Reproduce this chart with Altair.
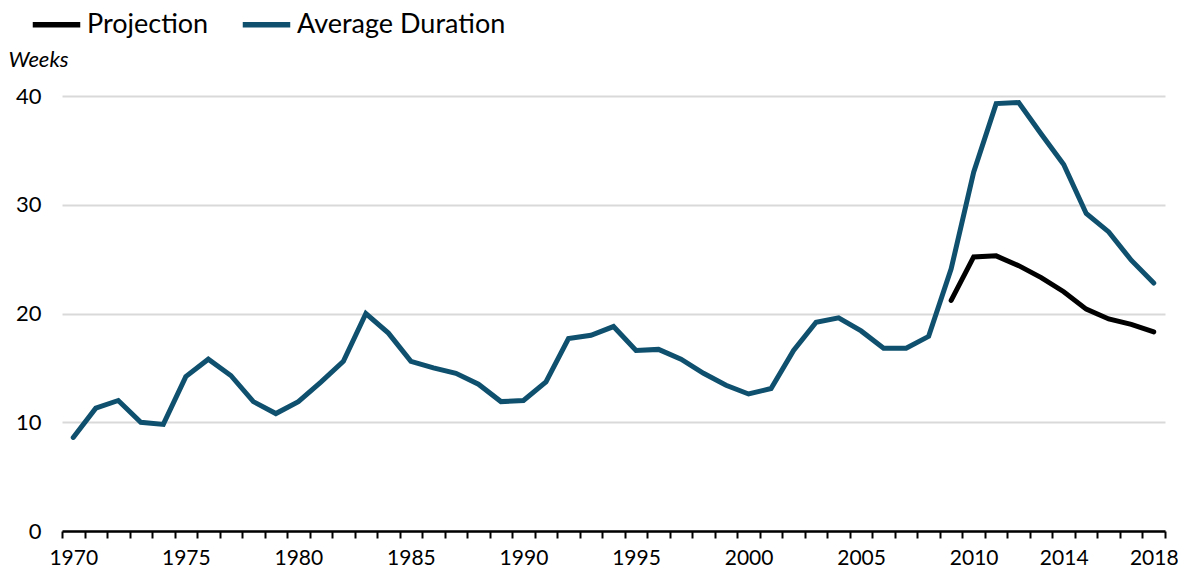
import altair as alt
import pandas as pd

years = list(range(1970, 2019))
avg_duration = [8.6, 11.3, 12.0, 10.0, 9.8, 14.2, 15.8, 14.3, 11.9, 10.8,
                11.9, 13.7, 15.6, 20.0, 18.2, 15.6, 15.0, 14.5, 13.5, 11.9,
                12.0, 13.7, 17.7, 18.0, 18.8, 16.6, 16.7, 15.8, 14.5, 13.4,
                12.6, 13.1, 16.6, 19.2, 19.6, 18.4, 16.8, 16.8, 17.9, 24.1,
                33.0, 39.3, 39.4, 36.5, 33.7, 29.2, 27.5, 24.9, 22.8]
proj_years = list(range(2009, 2019))
projection = [21.2, 25.2, 25.3, 24.4, 23.3, 22.0, 20.4, 19.5, 19.0, 18.3]
series_names = ["Projection", "Average Duration"]
series_colors = ["#000000", "#0e506e"]
x_labels = ["1970", "1975", "1980", "1985", "1990", "1995", "2000", "2005", "2010", "2014", "2018"]
y_ticks = [0, 10, 20, 30, 40]

df = pd.concat([
    pd.DataFrame({"year": years, "value": avg_duration, "series": "Average Duration"}),
    pd.DataFrame({"year": proj_years, "value": projection, "series": "Projection"}),
])

label_list = ",".join("'" + s + "'" for s in x_labels)

chart = alt.Chart(df).mark_line(strokeWidth=5, strokeCap="round").encode(
    x=alt.X("year:O", bandPosition=0.5,
            scale=alt.Scale(type="band", paddingInner=0, paddingOuter=0, domain=years),
            axis=alt.Axis(title=None, tickBand="extent", labelAngle=0, labelOverlap=False,
                          labelExpr="indexof([" + label_list + "], datum.label) >= 0 ? datum.label : ''",
                          domainColor="black", domainWidth=2.5, tickColor="black", tickWidth=2,
                          tickSize=7, labelFontSize=21, labelColor="black", labelPadding=9,
                          grid=False)),
    y=alt.Y("value:Q", scale=alt.Scale(domain=[0, 40], nice=False),
            axis=alt.Axis(title="Weeks", values=y_ticks, domain=False, ticks=False,
                          labelPadding=21, labelFontSize=22, labelColor="black",
                          gridColor="#d9d9d9", gridWidth=2,
                          titleAngle=0, titleX=-54, titleY=-30, titleAlign="left",
                          titleBaseline="alphabetic", titleFontStyle="italic",
                          titleFontWeight="normal", titleFontSize=22, titleColor="black")),
    color=alt.Color("series:N", scale=alt.Scale(domain=series_names, range=series_colors),
                    legend=alt.Legend(title=None, orient="none", direction="horizontal",
                                      legendX=-32, legendY=-98, symbolType="stroke",
                                      symbolSize=2256, symbolStrokeWidth=5.5, labelFontSize=27,
                                      labelColor="black", labelOffset=4, columnPadding=22,
                                      labelLimit=0, padding=0)),
).properties(
    width=1103, height=435,
    autosize=alt.AutoSizeParams(type="none"),
    padding={"left": 54, "top": 88, "right": 13, "bottom": 37},
).configure(font="Lato").configure_view(stroke=None)

chart.save("out.html", embed_options={"renderer": "svg", "actions": False})
